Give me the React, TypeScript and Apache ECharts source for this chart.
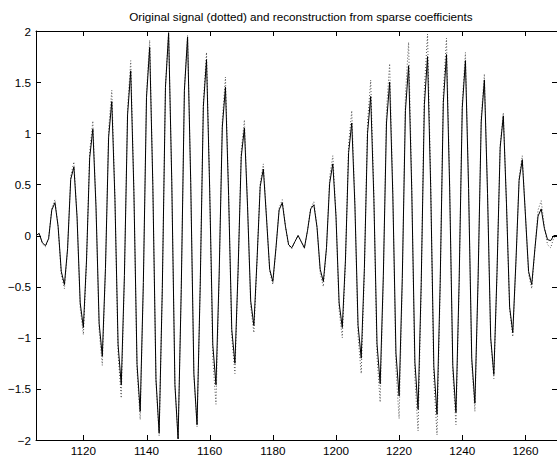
import React, { useEffect, useRef } from "react";
import * as echarts from "echarts";

const X_START = 1105;
const X_MIN = 1105;
const X_MAX = 1270;
const xTicks = [1120, 1140, 1160, 1180, 1200, 1220, 1240, 1260];
const yTicks = [-2, -1.5, -1, -0.5, 0, 0.5, 1, 1.5, 2];
const Y_MIN = -2;
const Y_MAX = 2;
const Y_STEP = 0.5;
const titleText = "Original signal (dotted) and reconstruction from sparse coefficients";

// reconstruction (solid), samples 1105..1270
const reconstruction = [
  0.00, 0.02, -0.07, -0.10, -0.03, 0.25,
  0.32, 0.09, -0.35, -0.48, -0.13, 0.55,
  0.67, 0.18, -0.66, -0.90, -0.24, 0.76,
  1.04, 0.28, -0.86, -1.18, -0.32, 0.96,
  1.31, 0.35, -1.07, -1.46, -0.39, 1.18,
  1.61, 0.43, -1.26, -1.72, -0.46, 1.35,
  1.84, 0.49, -1.41, -1.93, -0.52, 1.45,
  1.98, 0.53, -1.46, -1.99, -0.53, 1.42,
  1.94, 0.52, -1.35, -1.85, -0.50, 1.26,
  1.72, 0.46, -1.07, -1.46, -0.39, 1.06,
  1.45, 0.39, -0.92, -1.25, -0.34, 0.77,
  1.05, 0.28, -0.64, -0.88, -0.24, 0.48,
  0.65, 0.17, -0.33, -0.45, -0.12, 0.25,
  0.32, 0.09, -0.09, -0.12, -0.06, 0.00,
  -0.06, -0.12, 0.05, 0.26, 0.30, 0.08,
  -0.33, -0.45, -0.12, 0.51, 0.70, 0.19,
  -0.66, -0.90, -0.24, 0.81, 1.10, 0.29,
  -0.88, -1.20, -0.32, 1.00, 1.36, 0.36,
  -1.06, -1.45, -0.39, 1.10, 1.50, 0.40,
  -1.15, -1.57, -0.42, 1.22, 1.66, 0.44,
  -1.24, -1.70, -0.46, 1.28, 1.75, 0.47,
  -1.28, -1.75, -0.47, 1.30, 1.77, 0.47,
  -1.27, -1.73, -0.46, 1.25, 1.71, 0.46,
  -1.20, -1.64, -0.44, 1.11, 1.52, 0.41,
  -1.00, -1.36, -0.36, 0.86, 1.17, 0.31,
  -0.70, -0.95, -0.25, 0.54, 0.74, 0.20,
  -0.35, -0.48, -0.13, 0.19, 0.26, 0.07,
  -0.04, -0.05, 0.00, 0.00,
];

// original signal (dotted), samples 1105..1270
const original = [
  0.00, 0.02, -0.08, -0.11, -0.03, 0.27,
  0.35, 0.09, -0.38, -0.52, -0.14, 0.58,
  0.72, 0.19, -0.71, -0.97, -0.26, 0.82,
  1.12, 0.30, -0.93, -1.27, -0.34, 1.04,
  1.42, 0.38, -1.16, -1.59, -0.43, 1.25,
  1.71, 0.46, -1.32, -1.80, -0.48, 1.40,
  1.91, 0.51, -1.43, -1.96, -0.53, 1.46,
  1.99, 0.53, -1.46, -1.99, -0.53, 1.43,
  1.96, 0.53, -1.37, -1.87, -0.50, 1.31,
  1.79, 0.48, -1.21, -1.65, -0.44, 1.13,
  1.55, 0.42, -0.99, -1.35, -0.36, 0.83,
  1.13, 0.30, -0.70, -0.95, -0.25, 0.51,
  0.70, 0.19, -0.35, -0.48, -0.13, 0.27,
  0.35, 0.09, -0.10, -0.13, -0.06, 0.00,
  -0.06, -0.13, 0.05, 0.27, 0.33, 0.09,
  -0.37, -0.50, -0.13, 0.57, 0.78, 0.21,
  -0.73, -1.00, -0.27, 0.89, 1.22, 0.33,
  -0.99, -1.35, -0.36, 1.11, 1.52, 0.41,
  -1.19, -1.63, -0.44, 1.23, 1.68, 0.45,
  -1.31, -1.79, -0.48, 1.38, 1.89, 0.51,
  -1.40, -1.91, -0.51, 1.44, 1.97, 0.53,
  -1.42, -1.95, -0.52, 1.41, 1.93, 0.52,
  -1.35, -1.85, -0.50, 1.31, 1.79, 0.48,
  -1.26, -1.72, -0.46, 1.16, 1.58, 0.42,
  -1.02, -1.40, -0.38, 0.88, 1.20, 0.32,
  -0.72, -0.99, -0.27, 0.57, 0.78, 0.21,
  -0.38, -0.52, -0.14, 0.25, 0.34, 0.09,
  -0.09, -0.12, -0.02, 0.00,
];

const FONT = "'Liberation Sans', Arial, Helvetica, sans-serif";
const TICK_LEN = 5;

export default function App() {
  const ref = useRef<HTMLDivElement>(null);

  useEffect(() => {
    document.body.style.margin = "0";
    if (!ref.current) return;
    const chart = echarts.init(ref.current, undefined, { renderer: "svg" });

    const toPairs = (arr: number[]) => arr.map((v, i) => [X_START + i, v]);

    const mkLine = () => ({ show: true, onZero: false, lineStyle: { color: "#000", width: 1 } });
    const labelStyle = { color: "#000", fontSize: 11.7, fontFamily: FONT };
    const fmtY = (v: number) => String(v).replace("-", "\u2212");
    const fmtX = (v: number) => String(v);

    chart.setOption({
      animation: false,
      backgroundColor: "#fff",
      title: {
        text: titleText,
        left: 296,
        top: 5,
        textAlign: "center",
        textStyle: { fontSize: 11.7, fontWeight: "normal", color: "#000", fontFamily: FONT },
      },
      grid: { left: 36, right: 0, top: 31, bottom: 15, containLabel: false },
      xAxis: [
        {
          type: "value",
          position: "bottom",
          min: X_MIN,
          max: X_MAX,
          axisLine: mkLine(),
          axisTick: { show: false },
          axisLabel: { ...labelStyle, margin: 4, customValues: xTicks, formatter: fmtX },
          splitLine: { show: false },
        },
        {
          type: "value",
          position: "top",
          min: X_MIN,
          max: X_MAX,
          axisLine: mkLine(),
          axisTick: { show: false },
          axisLabel: { show: false },
          splitLine: { show: false },
        },
      ],
      yAxis: [
        {
          type: "value",
          position: "left",
          min: Y_MIN,
          max: Y_MAX,
          interval: Y_STEP,
          axisLine: mkLine(),
          axisTick: { show: false },
          axisLabel: { ...labelStyle, margin: 5, formatter: fmtY },
          splitLine: { show: false },
        },
        {
          type: "value",
          position: "right",
          min: Y_MIN,
          max: Y_MAX,
          interval: Y_STEP,
          axisLine: mkLine(),
          axisTick: { show: false },
          axisLabel: { show: false },
          splitLine: { show: false },
        },
      ],
      series: [
        {
          name: "original",
          type: "line",
          xAxisIndex: 0,
          yAxisIndex: 0,
          data: toPairs(original),
          showSymbol: false,
          symbol: "none",
          lineStyle: { color: "#555", width: 1, type: [1, 2] },
          z: 2,
        },
        {
          name: "reconstruction",
          type: "line",
          xAxisIndex: 0,
          yAxisIndex: 0,
          data: toPairs(reconstruction),
          showSymbol: false,
          symbol: "none",
          lineStyle: { color: "#000", width: 1 },
          z: 3,
        },
      ],
    });

    // tick marks on all four sides, placed through the axes' own scales
    const tickStyle = { stroke: "#000", lineWidth: 1 };
    const els: any[] = [];
    xTicks.forEach((v) => {
      const b = chart.convertToPixel({ gridIndex: 0 }, [v, Y_MIN]) as number[];
      const t = chart.convertToPixel({ gridIndex: 0 }, [v, Y_MAX]) as number[];
      const x = Math.round(b[0]) + 0.5;
      els.push({ type: "line", silent: true, z: 100, shape: { x1: x, y1: b[1], x2: x, y2: b[1] - TICK_LEN }, style: tickStyle });
      els.push({ type: "line", silent: true, z: 100, shape: { x1: x, y1: t[1], x2: x, y2: t[1] + TICK_LEN }, style: tickStyle });
    });
    yTicks.forEach((v) => {
      const l = chart.convertToPixel({ gridIndex: 0 }, [X_MIN, v]) as number[];
      const r = chart.convertToPixel({ gridIndex: 0 }, [X_MAX, v]) as number[];
      const y = Math.round(l[1]) + 0.5;
      els.push({ type: "line", silent: true, z: 100, shape: { x1: l[0], y1: y, x2: l[0] + TICK_LEN, y2: y }, style: tickStyle });
      els.push({ type: "line", silent: true, z: 100, shape: { x1: r[0], y1: y, x2: r[0] - TICK_LEN, y2: y }, style: tickStyle });
    });
    chart.setOption({ graphic: els });

    return () => chart.dispose();
  }, []);

  return <div ref={ref} style={{ width: 557, height: 456 }} />;
}
